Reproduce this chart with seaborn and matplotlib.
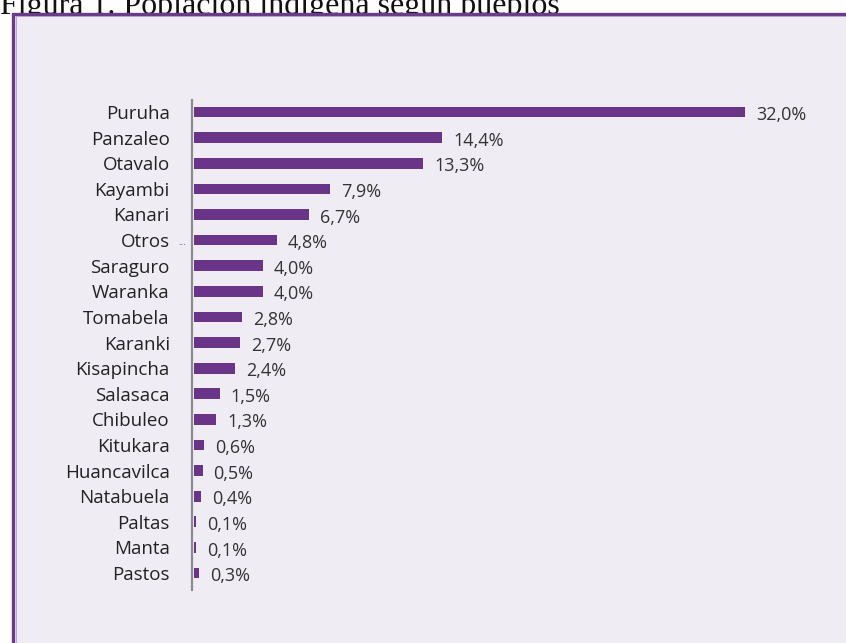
import pandas as pd
import matplotlib
matplotlib.use("Agg")
import matplotlib.pyplot as plt
import seaborn as sns
from matplotlib.patches import Rectangle

pueblos = ["Puruha", "Panzaleo", "Otavalo", "Kayambi", "Kanari", "Otros",
           "Saraguro", "Waranka", "Tomabela", "Karanki", "Kisapincha",
           "Salasaca", "Chibuleo", "Kitukara", "Huancavilca", "Natabuela",
           "Paltas", "Manta", "Pastos"]
porcentaje = [32.0, 14.4, 13.3, 7.9, 6.7, 4.8, 4.0, 4.0, 2.8, 2.7, 2.4,
              1.5, 1.3, 0.6, 0.5, 0.4, 0.1, 0.1, 0.3]
titulo = "Figura 1. Población indígena según pueblos"

bg = "#EFECF4"
purple = "#6A3589"

sns.set_theme(style="white")
plt.rcParams["font.family"] = ["Open Sans", "DejaVu Sans"]

df = pd.DataFrame({"Pueblo": pueblos, "Porcentaje": porcentaje})

W, H = 846, 643
fig = plt.figure(figsize=(W / 100, H / 100), dpi=100)
fig.patch.set_facecolor("white")

# title sits partly above the image edge, frame drawn over it
fig.text(0, 1 - 14 / H, titulo, fontsize=23, family="Liberation Serif",
         color="#111111", va="baseline", ha="left", zorder=-2)

# purple frame with lavender fill
frame = Rectangle((13 / W, -0.05), 1.0, 1 - 13.5 / H + 0.05,
                  transform=fig.transFigure, facecolor=bg,
                  edgecolor="#6B3A8E", linewidth=2.4, zorder=-1)
fig.patches.append(frame)
inner = Rectangle((15.5 / W, -0.05), 1.0, 1 - 16 / H + 0.05,
                  transform=fig.transFigure, facecolor="none",
                  edgecolor="#B59AC9", linewidth=0.6, zorder=-1)
fig.patches.append(inner)

ax_left, ax_right = 192, 790
ax_top, ax_bot = 100, 590
ax = fig.add_axes([ax_left / W, 1 - ax_bot / H, (ax_right - ax_left) / W,
                   (ax_bot - ax_top) / H])
ax.set_facecolor("none")
ax.set_zorder(2)

sns.barplot(data=df, x="Porcentaje", y="Pueblo", orient="h", color=purple,
            saturation=1, width=0.42, linewidth=0, ax=ax)

px_per_unit = (745 - 194) / 32.0
ax.set_xlim(-2 / px_per_unit, (ax_right - 192) / px_per_unit - 2 / px_per_unit)
ax.set_ylim(18.66, -0.47)

for i, v in enumerate(porcentaje):
    ax.text(v + 11 / px_per_unit, i + 0.12, f"{v:.1f}%".replace(".", ","),
            va="center", ha="left", fontsize=13, color="#333333")

ax.set_xlabel("")
ax.set_ylabel("")
ax.set_xticks([])
for s in ["top", "right", "bottom"]:
    ax.spines[s].set_visible(False)
ax.spines["left"].set_color("#8C8C8C")
ax.spines["left"].set_linewidth(1.6)
ax.tick_params(axis="y", length=0, pad=16, labelsize=13.5, labelcolor="#222222")

ax.text(-8 / px_per_unit, 5.1, "...", ha="right", va="center", fontsize=7,
        color="#777777")

fig.savefig("out.png", dpi=100, facecolor=fig.get_facecolor())
